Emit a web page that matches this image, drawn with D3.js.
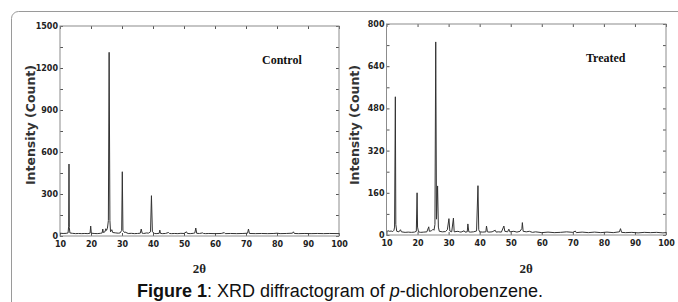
<!DOCTYPE html>
<html>
<head>
<meta charset="utf-8">
<script src="https://cdn.jsdelivr.net/npm/d3@7"></script>
<style>
  body { margin: 0; background: #fff; }
  svg { display: block; }
</style>
</head>
<body>
<div id="chart"></div>
<script>
// 2θ range and tick labels
const thetaTicks = [10, 20, 30, 40, 50, 60, 70, 80, 90, 100];
const controlYTicks = [0, 300, 600, 900, 1200, 1500];
const treatedYTicks = [0, 160, 320, 480, 640, 800];

// diffractogram points: [2θ, count]
const controlPattern = [
  [10,20],[11,18],[12,19],[12.6,22],[12.8,70],[12.9,514],[13.0,60],[13.2,22],[14,19],[15,17],[16,18],[17,17],
  [18,18],[19,17],[19.7,20],[19.9,71],[20.1,20],[21,18],[22,17],[23,19],[23.6,22],[23.8,50],[24.0,25],
  [24.5,30],[24.8,52],[25.0,40],[25.3,55],[25.6,110],[25.85,1312],[26.1,110],[26.3,30],[26.7,45],[27,25],
  [28,22],[28.8,20],[29.4,22],[29.9,40],[30.1,459],[30.3,40],[30.8,25],[31,28],[32,18],[33,19],[34,17],
  [35,18],[35.9,20],[36.2,50],[36.5,20],[37,18],[38,22],[38.5,20],[39.2,30],[39.5,288],[39.8,30],[40.5,18],
  [41,17],[42,19],[42.2,42],[42.4,19],[43,17],[44,18],[45,25],[45.3,18],[46,17],[47,18],[48,17],[49,19],
  [50,18],[50.8,30],[51.1,18],[52,17],[53,19],[53.5,22],[53.8,57],[54.1,19],[55,18],[56,22],[56.3,18],
  [57,17],[58,18],[60,17],[62,18],[63,24],[63.3,17],[65,18],[67,17],[69,18],[70.5,20],[70.8,50],[71.1,18],
  [73,17],[75,18],[77,17],[79,18],[80,20],[81,17],[83,18],[85,20],[85.3,30],[85.6,18],[87,17],[89,18],
  [91,17],[93,18],[95,17],[97,18],[100,17]
];

const treatedPattern = [
  [10,12],[10.5,16],[11,14],[11.5,15],[12,13],[12.4,18],[12.6,30],[12.85,524],[13.0,40],[13.3,14],[14,12],
  [14.5,20],[14.8,12],[16,10],[17,11],[18,10],[19,11],[19.6,14],[19.85,160],[20.0,30],[20.3,12],[21,10],
  [22,11],[23,12],[23.6,31],[23.8,14],[24.5,16],[25,22],[25.3,18],[25.6,40],[25.85,732],[26.1,60],
  [26.45,186],[26.7,30],[27,14],[28,12],[29,13],[29.6,20],[30.1,62],[30.4,15],[31,12],[31.55,64],[31.8,12],
  [33,14],[33.5,12],[34,11],[35,16],[35.3,11],[36,12],[36.2,42],[36.5,12],[37,11],[38,12],[39,15],
  [39.45,187],[39.7,20],[40,12],[41,11],[42,12],[42.2,34],[42.5,12],[43,11],[44,12],[45,18],[45.3,11],
  [46,12],[47,11],[47.8,34],[48.1,14],[49,12],[49.4,22],[49.7,12],[51,14],[52,11],[53,14],[53.6,25],
  [53.75,47],[54,14],[55,12],[56,14],[57,10],[58,12],[60,9],[62,11],[64,9],[66,10],[68,12],[70,10],
  [70.8,15],[71.1,9],[73,11],[75,9],[77,11],[79,9],[81,11],[83,9],[85,12],[85.35,24],[85.7,10],[87,9],
  [89,10],[91,8],[93,10],[95,9],[97,10],[99,8],[100,9]
];

const W = 678, H = 302;

const svg = d3.select("#chart")
  .append("svg")
    .attr("width", W)
    .attr("height", H);

// outer rounded frame (runs off the right and bottom edge)
svg.append("rect")
  .attr("x", 11.5).attr("y", 11.5)
  .attr("width", 700).attr("height", 320)
  .attr("rx", 7)
  .attr("fill", "#fff")
  .attr("stroke", "#9a9a9a")
  .attr("stroke-width", 1);

function drawPanel(opts) {
  const { left, right, top, bottom, yMax, yTicks, yMinorStep, data, label, labelX, labelY, titleX, id } = opts;

  const x = d3.scaleLinear().domain([10, 100]).range([left, right]);
  const y = d3.scaleLinear().domain([0, yMax]).range([bottom, top]);

  const g = svg.append("g");

  g.append("clipPath").attr("id", id)
    .append("rect")
      .attr("x", left).attr("y", top)
      .attr("width", right - left).attr("height", bottom - top);

  // minor ticks on y
  const minor = d3.range(0, yMax + 1, yMinorStep);

  const tickStyle = sel => {
    sel.select(".domain").remove();
    sel.selectAll(".tick line").attr("stroke", "#555");
  };

  // bottom axis with labels
  g.append("g")
    .attr("transform", `translate(0,${bottom})`)
    .call(d3.axisBottom(x).tickValues(thetaTicks).tickSize(-3).tickPadding(5).tickFormat(d3.format("d")))
    .call(tickStyle)
    .call(a => a.selectAll("text")
      .attr("font-family", "DejaVu Sans, Verdana, sans-serif")
      .attr("font-weight", "bold")
      .attr("font-size", 8)
      .attr("fill", "#222"));

  // top axis ticks
  g.append("g")
    .attr("transform", `translate(0,${top})`)
    .call(d3.axisTop(x).tickValues(thetaTicks).tickSize(-3).tickFormat(""))
    .call(tickStyle);

  // left axis
  g.append("g")
    .attr("transform", `translate(${left},0)`)
    .call(d3.axisLeft(y).tickValues(minor).tickSize(-3).tickPadding(2)
      .tickFormat(d => yTicks.includes(d) ? d : ""))
    .call(tickStyle)
    .call(a => a.selectAll("text")
      .attr("font-family", "DejaVu Sans, Verdana, sans-serif")
      .attr("font-weight", "bold")
      .attr("font-size", 8)
      .attr("fill", "#222"));

  // right axis ticks
  g.append("g")
    .attr("transform", `translate(${right},0)`)
    .call(d3.axisRight(y).tickValues(minor).tickSize(-3).tickFormat(""))
    .call(tickStyle);

  // plot frame
  g.append("rect")
    .attr("x", left).attr("y", top)
    .attr("width", right - left).attr("height", bottom - top)
    .attr("fill", "none")
    .attr("stroke", "#8c8c8c")
    .attr("stroke-width", 1);

  // pattern
  const line = d3.line().x(d => x(d[0])).y(d => y(d[1]));
  g.append("path")
    .datum(data)
    .attr("clip-path", `url(#${id})`)
    .attr("d", line)
    .attr("fill", "none")
    .attr("stroke", "#333")
    .attr("stroke-width", 1)
    .attr("stroke-linejoin", "miter");

  // sample label
  g.append("text")
    .attr("x", labelX).attr("y", labelY)
    .attr("font-family", "Liberation Serif, Times New Roman, serif")
    .attr("font-weight", "bold")
    .attr("font-size", 12)
    .attr("fill", "#111")
    .text(label);

  // y title
  g.append("text")
    .attr("transform", `translate(${titleX},125) rotate(-90)`)
    .attr("text-anchor", "middle")
    .attr("dy", "0.35em")
    .attr("font-family", "DejaVu Sans, Verdana, sans-serif")
    .attr("font-weight", "bold")
    .attr("font-size", 12.5)
    .attr("fill", "#333")
    .text("Intensity (Count)");

  // x title
  g.append("text")
    .attr("x", (left + right) / 2).attr("y", 273)
    .attr("text-anchor", "middle")
    .attr("font-family", "Liberation Serif, Times New Roman, serif")
    .attr("font-weight", "bold")
    .attr("font-size", 13)
    .attr("fill", "#222")
    .text("2θ");
}

drawPanel({
  id: "clipControl",
  left: 60, right: 339, top: 26, bottom: 236,
  yMax: 1500, yTicks: controlYTicks, yMinorStep: 150,
  data: controlPattern,
  label: "Control", labelX: 262, labelY: 64,
  titleX: 31
});

drawPanel({
  id: "clipTreated",
  left: 386.5, right: 666, top: 24, bottom: 235,
  yMax: 800, yTicks: treatedYTicks, yMinorStep: 80,
  data: treatedPattern,
  label: "Treated", labelX: 586, labelY: 62,
  titleX: 355
});

// caption
const cap = svg.append("text")
  .attr("x", 340).attr("y", 297)
  .attr("text-anchor", "middle")
  .attr("font-family", "Liberation Sans, Arial, sans-serif")
  .attr("font-size", 18)
  .attr("fill", "#111");
cap.append("tspan").attr("font-weight", "bold").text("Figure 1");
cap.append("tspan").text(": XRD diffractogram of ");
cap.append("tspan").attr("font-style", "italic").text("p");
cap.append("tspan").text("-dichlorobenzene.");
</script>
</body>
</html>
